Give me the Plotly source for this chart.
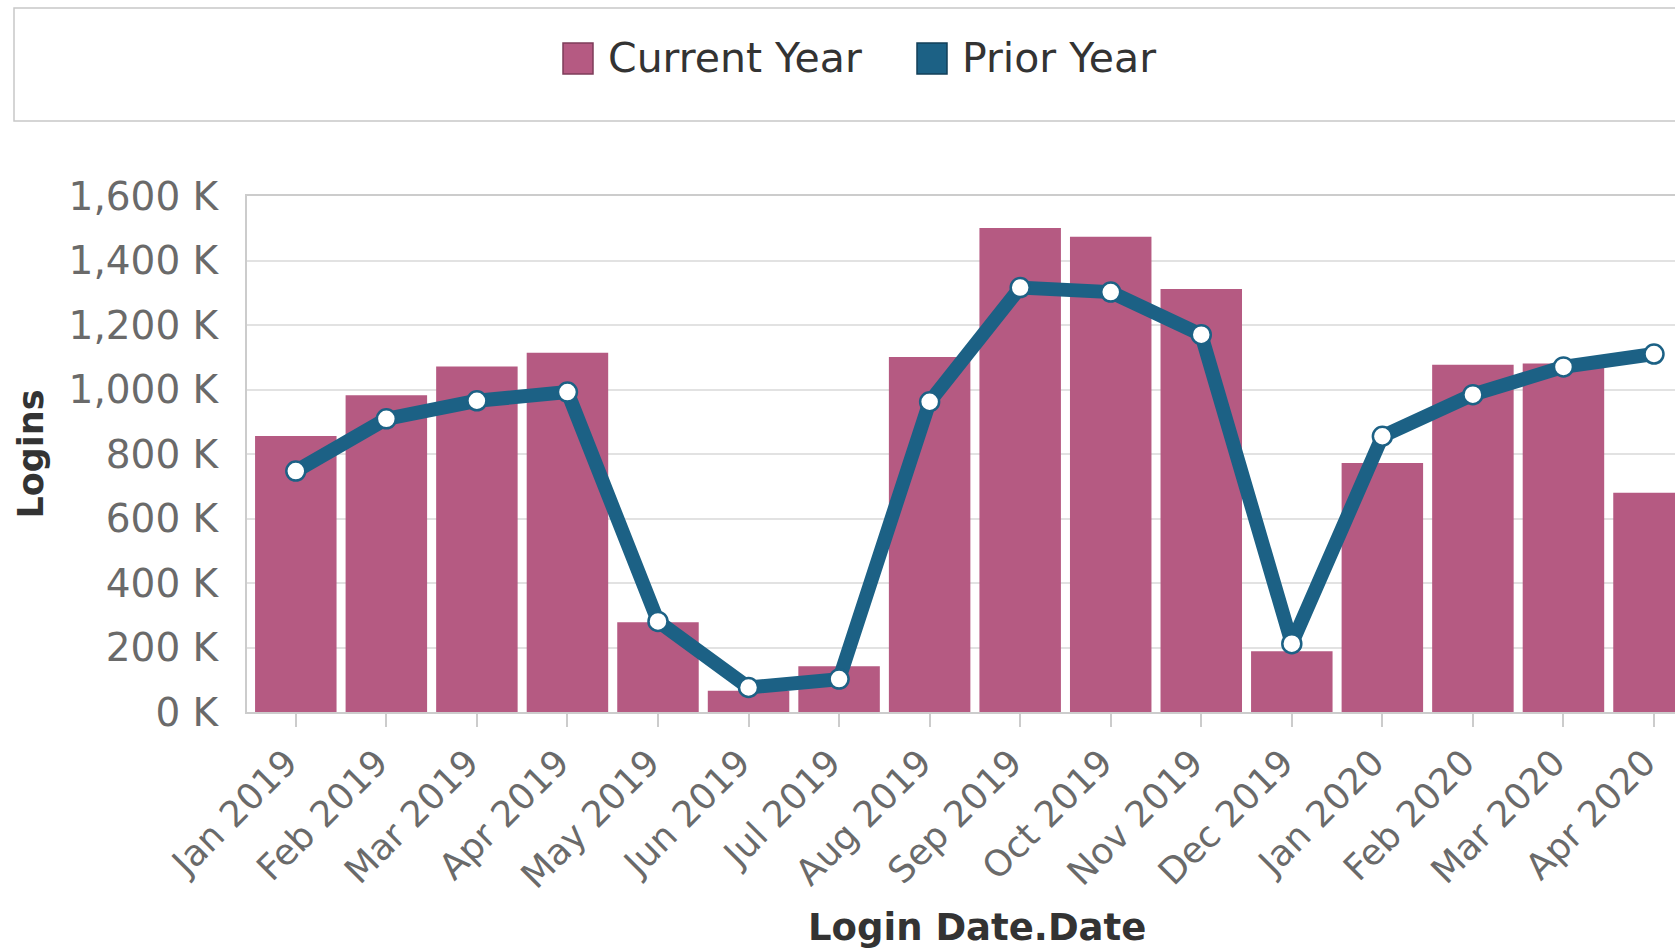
import plotly.graph_objects as go

months = ["Jan 2019", "Feb 2019", "Mar 2019", "Apr 2019", "May 2019", "Jun 2019",
          "Jul 2019", "Aug 2019", "Sep 2019", "Oct 2019", "Nov 2019", "Dec 2019",
          "Jan 2020", "Feb 2020", "Mar 2020", "Apr 2020"]
current_year = [856000, 982000, 1071000, 1114000, 278000, 66000, 142000, 1101000,
                1501000, 1474000, 1312000, 188000, 772000, 1077000, 1081000, 680000]
prior_year = [747000, 909000, 965000, 992000, 281000, 76000, 102000, 962000,
              1316000, 1302000, 1170000, 212000, 855000, 984000, 1070000, 1110000]
y_tick_vals = [0, 200000, 400000, 600000, 800000, 1000000, 1200000, 1400000, 1600000]
y_tick_text = ["0 K", "200 K", "400 K", "600 K", "800 K", "1,000 K", "1,200 K", "1,400 K", "1,600 K"]

W, H = 1675, 950
L, R, T, B = 247, 0, 196, 238
PW, PH = W - L - R, H - T - B

def px(x):
    return (x - L) / PW

def py(y):
    return (H - B - y) / PH

BAR = "#b55a82"
LINE = "#1c6185"
FONT = "DejaVu Sans"

fig = go.Figure()
fig.add_trace(go.Bar(x=months, y=current_year, name="Current Year",
                     marker=dict(color=BAR, line=dict(width=0)), showlegend=False))
fig.add_trace(go.Scatter(x=months, y=prior_year, name="Prior Year", mode="lines+markers",
                         line=dict(color=LINE, width=14),
                         marker=dict(size=19, color="white", line=dict(color=LINE, width=2.5)),
                         showlegend=False, cliponaxis=False))

shapes = [
    dict(type="rect", xref="paper", yref="paper", x0=px(14), x1=px(1700), y0=py(8), y1=py(121),
         line=dict(color="#c8c8c8", width=1.5), fillcolor="rgba(0,0,0,0)", layer="above"),
    dict(type="rect", xref="paper", yref="paper", x0=px(563), x1=px(593), y0=py(43), y1=py(74),
         line=dict(color="#7d3d5a", width=1.5), fillcolor=BAR),
    dict(type="rect", xref="paper", yref="paper", x0=px(917), x1=px(947), y0=py(43), y1=py(74),
         line=dict(color="#123f58", width=1.5), fillcolor=LINE),
]
annotations = [
    dict(text="Current Year", xref="paper", yref="paper", x=px(606), y=py(58),
         xanchor="left", yanchor="middle", showarrow=False,
         font=dict(family=FONT, size=41, color="#333333")),
    dict(text="Prior Year", xref="paper", yref="paper", x=px(960), y=py(58),
         xanchor="left", yanchor="middle", showarrow=False,
         font=dict(family=FONT, size=41, color="#333333")),
    dict(text="<b>Login Date.Date</b>", xref="paper", yref="paper", x=px(977), y=py(927),
         xanchor="center", yanchor="middle", showarrow=False,
         font=dict(family=FONT, size=37, color="#333333")),
]

fig.update_layout(
    width=W, height=H,
    margin=dict(l=L, r=R, t=T, b=B, pad=0),
    paper_bgcolor="white", plot_bgcolor="white",
    bargap=0.1,
    shapes=shapes, annotations=annotations,
    font=dict(family=FONT, color="#666666"),
)
fig.update_xaxes(
    type="category", range=[-0.539, 15.232],
    tickangle=-45, tickfont=dict(family=FONT, size=36, color="#6a6a6a"),
    ticks="outside", ticklen=13, tickwidth=2, tickcolor="#cccccc",
    ticklabelshift=-9,
    showline=True, linecolor="#cccccc", linewidth=2, mirror=True,
    showgrid=False,
    automargin=False,
)
fig.update_yaxes(
    range=[0, 1600000], tickvals=y_tick_vals, ticktext=y_tick_text,
    tickfont=dict(family=FONT, size=39, color="#6a6a6a"),
    ticks="", ticklabelstandoff=19,
    showgrid=True, gridcolor="#e2e2e2", gridwidth=2,
    showline=True, linecolor="#cccccc", linewidth=2, mirror=True,
    zeroline=False,
    title=dict(text="<b>Logins</b>", font=dict(family=FONT, size=35, color="#333333"), standoff=14),
    automargin=False,
)

fig.write_html("out.html", config={"displayModeBar": False},
               post_script="document.body.style.margin='0';document.body.style.overflow='hidden';")
